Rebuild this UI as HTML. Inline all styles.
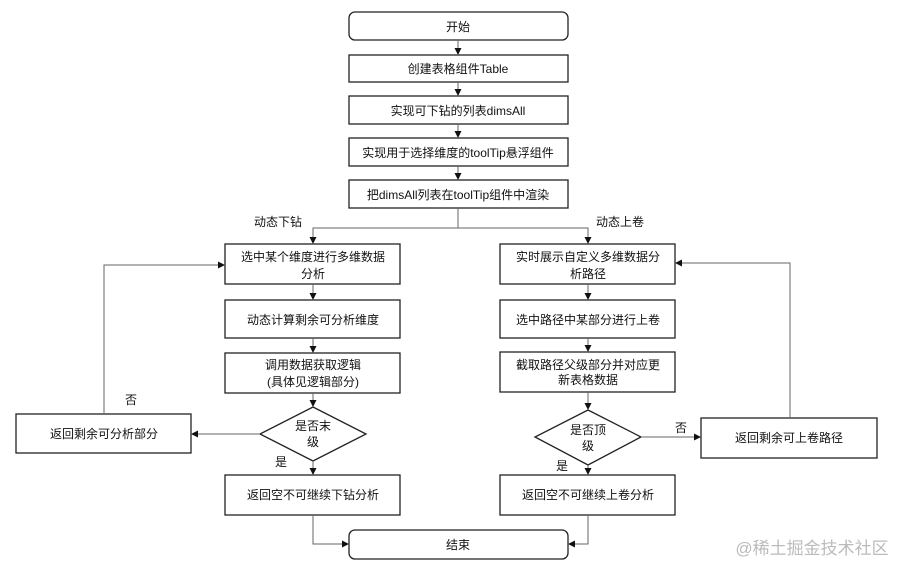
<!DOCTYPE html>
<html><head><meta charset="utf-8"><style>
html,body{margin:0;padding:0;background:#fff;}
svg text{font-family:"Liberation Sans","Noto Sans CJK SC",sans-serif;font-size:12px;fill:#111;}
</style></head><body>
<svg width="898" height="564" viewBox="0 0 898 564" xmlns="http://www.w3.org/2000/svg">
<defs><marker id="a" markerWidth="8" markerHeight="8" refX="7" refY="4" orient="auto" markerUnits="userSpaceOnUse"><path d="M0,0.5 L7,4 L0,7.5z" fill="#111"/></marker></defs>
<g fill="#fff" stroke="#222" stroke-width="1.3">
<rect x="349" y="12" width="219" height="28" rx="6"/>
<rect x="349" y="55" width="219" height="27"/>
<rect x="349" y="96" width="219" height="28"/>
<rect x="349" y="138" width="219" height="28"/>
<rect x="349" y="180" width="219" height="28"/>
<rect x="225" y="244" width="175" height="40"/>
<rect x="225" y="300" width="175" height="38"/>
<rect x="225" y="353" width="175" height="40"/>
<polygon points="313,407 366,434 313,461 260,434"/>
<rect x="225" y="475" width="175" height="40"/>
<rect x="16" y="414" width="175" height="39"/>
<rect x="500" y="244" width="175" height="40"/>
<rect x="500" y="300" width="175" height="38"/>
<rect x="500" y="352" width="175" height="40"/>
<polygon points="588,410 641,437 588,465 535,437"/>
<rect x="500" y="475" width="175" height="40"/>
<rect x="701" y="418" width="176" height="40"/>
<rect x="349" y="530" width="219" height="29" rx="6"/>
</g>
<g fill="none" stroke="#666" stroke-width="1" marker-end="url(#a)">
<line x1="458" y1="40" x2="458" y2="55"/>
<line x1="458" y1="82" x2="458" y2="96"/>
<line x1="458" y1="124" x2="458" y2="138"/>
<line x1="458" y1="166" x2="458" y2="180"/>
<polyline points="458,208 458,228 313,228 313,244"/>
<polyline points="458,228 588,228 588,244"/>
<line x1="313" y1="284" x2="313" y2="300"/>
<line x1="313" y1="338" x2="313" y2="353"/>
<line x1="313" y1="393" x2="313" y2="407"/>
<line x1="313" y1="461" x2="313" y2="475"/>
<line x1="260" y1="434" x2="191" y2="434"/>
<polyline points="104,414 104,265 225,265"/>
<polyline points="313,515 313,544 349,544"/>
<line x1="588" y1="284" x2="588" y2="300"/>
<line x1="588" y1="338" x2="588" y2="352"/>
<line x1="588" y1="392" x2="588" y2="410"/>
<line x1="588" y1="465" x2="588" y2="475"/>
<line x1="641" y1="437" x2="701" y2="437"/>
<polyline points="790,418 790,263 675,263"/>
<polyline points="588,515 588,544 568,544"/>
</g>
<g text-anchor="middle">
<text x="458" y="31">开始</text>
<text x="458" y="73">创建表格组件Table</text>
<text x="458" y="115">实现可下钻的列表dimsAll</text>
<text x="458" y="157">实现用于选择维度的toolTip悬浮组件</text>
<text x="458" y="199">把dimsAll列表在toolTip组件中渲染</text>
<text x="313" y="261">选中某个维度进行多维数据</text>
<text x="313" y="278">分析</text>
<text x="313" y="324">动态计算剩余可分析维度</text>
<text x="313" y="369">调用数据获取逻辑</text>
<text x="313" y="386">(具体见逻辑部分)</text>
<text x="313" y="430">是否末</text>
<text x="313" y="446">级</text>
<text x="313" y="499">返回空不可继续下钻分析</text>
<text x="104" y="438">返回剩余可分析部分</text>
<text x="588" y="261">实时展示自定义多维数据分</text>
<text x="588" y="278">析路径</text>
<text x="588" y="324">选中路径中某部分进行上卷</text>
<text x="588" y="369">截取路径父级部分并对应更</text>
<text x="588" y="384">新表格数据</text>
<text x="588" y="434">是否顶</text>
<text x="588" y="450">级</text>
<text x="588" y="499">返回空不可继续上卷分析</text>
<text x="789" y="442">返回剩余可上卷路径</text>
<text x="458" y="549">结束</text>
<text x="278" y="226">动态下钻</text>
<text x="620" y="226">动态上卷</text>
<text x="131" y="404">否</text>
<text x="281" y="466">是</text>
<text x="681" y="432">否</text>
<text x="562" y="470">是</text>
<text x="812" y="554" style="font-size:17px;fill:#bbb">@稀土掘金技术社区</text>
</g>
</svg>
</body></html>
